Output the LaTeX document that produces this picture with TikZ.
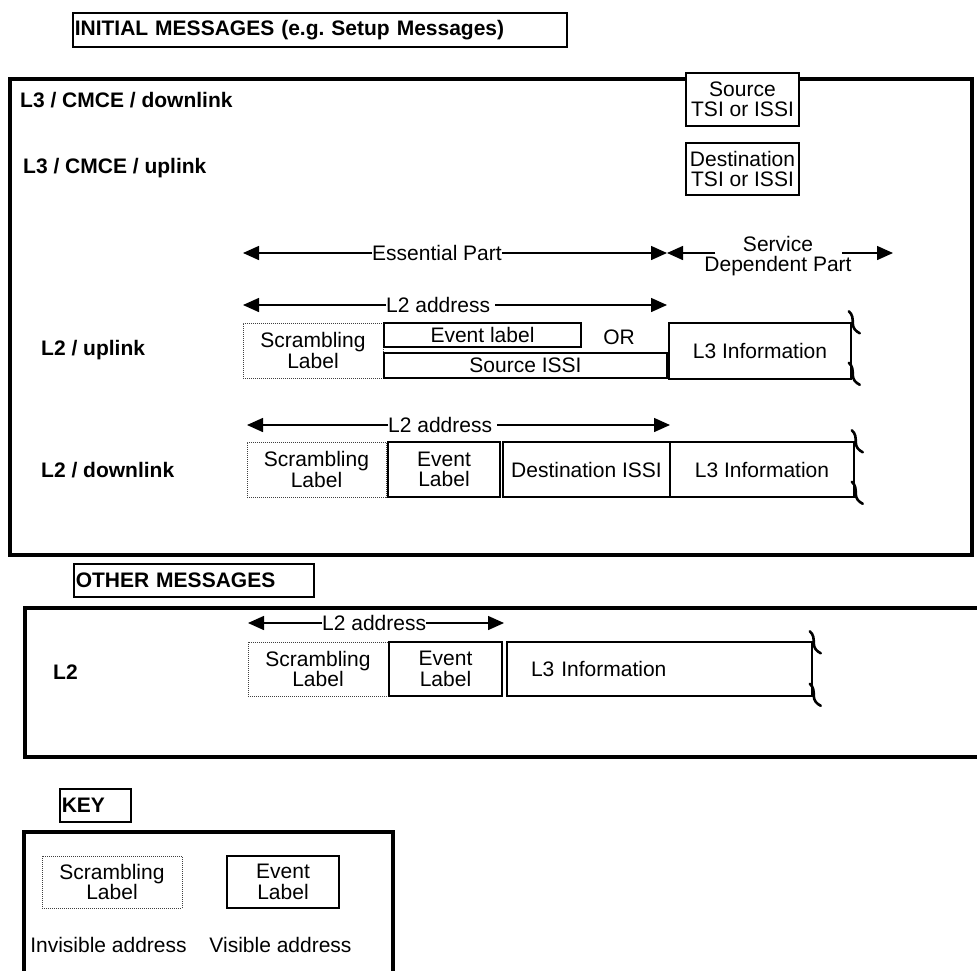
\documentclass[tikz,border=0pt]{standalone}
\usepackage{fontspec}
\setmainfont{Liberation Sans}
\usetikzlibrary{arrows.meta}

\newcommand\figfont{\fontsize{21}{20.5}\selectfont}

\tikzset{
	frame/.style={line width=4.5pt},
	heading/.style={draw, line width=1.5pt, anchor=west, inner xsep=2pt, inner ysep=0pt, align=left, font=\figfont\bfseries},
	layer/.style={anchor=west, inner sep=0pt, font=\figfont\bfseries},
	field/.style={draw, line width=1.5pt, inner sep=0pt, align=center},
	evfield/.style={field, line width=2pt},
	scrfield/.style={draw=black!75, line width=0.9pt, dash pattern=on 1pt off 1pt, inner sep=0pt, align=center},
	spantext/.style={inner sep=0pt, align=center},
	arr/.style={-{Triangle[length=16pt,width=14pt]}, line width=1.5pt},
	squig/.pic={\draw[line width=2.6pt, line cap=round] (-3,0) .. controls (1,3) and (1,8) .. (1,12) .. controls (1,17) and (4,20) .. (8,22);}
}

\begin{document}
\begin{tikzpicture}[x=1pt, y=-1pt, font=\figfont]
	\useasboundingbox (0,0) rectangle (977,970);
	
	%initial messages
	\node[heading, text width=490pt, minimum height=34pt] (initT) at (72,30) {INITIAL MESSAGES (e.g.\ Setup Messages)};
	\draw[frame] (10,79) rectangle (972,555);
	
	\node[layer] (l3dl) at (20,100) {L3 / CMCE / downlink};
	\node[layer] (l3ul) at (23,168) {L3 / CMCE / uplink};
	\node[field, fill=white, minimum width=113pt, minimum height=53pt] (srcT) at (742.5,99.5) {Source\\TSI or ISSI};
	\node[field, minimum width=113pt, minimum height=52pt] (dstT) at (742.5,169) {Destination\\TSI or ISSI};
	
	%essential / service dependent part
	\node[spantext] (ess) at (437,253) {Essential Part};
	\coordinate (essL) at (243,253);
	\coordinate (essR) at (667,253);
	\draw[arr] (ess.west) -- (essL);
	\draw[arr] (ess.east) -- (essR);
	
	\node[spantext] (svc) at (778,256) {Service\\Dependent Part};
	\coordinate (svcL) at (667,253);
	\coordinate (svcR) at (893,253);
	\draw[arr] ([xshift=11pt,yshift=3pt]svc.west) -- (svcL);
	\draw[arr] ([xshift=-10pt,yshift=3pt]svc.east) -- (svcR);
	
	%L2 uplink
	\node[layer] (l2ul) at (41,350) {L2 / uplink};
	\node[spantext, anchor=west] (adrU) at (386,305) {L2 address};
	\coordinate (adrUl) at (243,305);
	\coordinate (adrUr) at (667,305);
	\draw[arr] (adrU.west) -- (adrUl);
	\draw[arr] ([xshift=5pt]adrU.east) -- (adrUr);
	
	\node[scrfield, minimum width=140pt, minimum height=55pt] (scrU) at (313,350.5) {Scrambling\\Label};
	\node[evfield, minimum width=197pt, minimum height=24pt] (evU) at (482.5,335) {Event label};
	\node[field, minimum width=283pt, minimum height=25pt] (srcU) at (525.5,365.5) {Source ISSI};
	\node[spantext] (orU) at (619,337) {OR};
	\node[field, minimum width=182pt, minimum height=56pt] (l3U) at (760,351) {L3 Information};
	\pic at ([yshift=11pt]l3U.north east) {squig};
	\pic at ([yshift=17pt]l3U.south east) {squig};
	
	%L2 downlink
	\node[layer] (l2dl) at (41,470) {L2 / downlink};
	\node[spantext, anchor=west] (adrD) at (388,425) {L2 address};
	\coordinate (adrDl) at (247,425);
	\coordinate (adrDr) at (670,425);
	\draw[arr] (adrD.west) -- (adrDl);
	\draw[arr] ([xshift=5pt]adrD.east) -- (adrDr);
	
	\node[scrfield, minimum width=139pt, minimum height=55pt] (scrD) at (316.5,469.5) {Scrambling\\Label};
	\node[evfield, minimum width=112pt, minimum height=55pt] (evD) at (444,469.5) {Event\\Label};
	\node[field, minimum width=167pt, minimum height=55pt] (dstD) at (586.5,469.5) {Destination ISSI};
	\node[field, minimum width=184pt, minimum height=55pt] (l3D) at (762,469.5) {L3 Information};
	\pic at ([yshift=11pt]l3D.north east) {squig};
	\pic at ([yshift=16pt]l3D.south east) {squig};
	
	%other messages
	\node[heading, text width=236pt, minimum height=33pt] (othT) at (73,580.5) {OTHER MESSAGES};
	\draw[frame] (1000,608) -- (25,608) -- (25,757) -- (1000,757);
	
	\node[layer] (l2o) at (53,672) {L2};
	\node[spantext, anchor=west] (adrO) at (322,623) {L2 address};
	\coordinate (adrOl) at (248,623);
	\coordinate (adrOr) at (504,623);
	\draw[arr] (adrO.west) -- (adrOl);
	\draw[arr] (adrO.east) -- (adrOr);
	
	\node[scrfield, minimum width=140pt, minimum height=54pt] (scrO) at (318,669) {Scrambling\\Label};
	\node[evfield, minimum width=113pt, minimum height=54pt] (evO) at (445.5,669) {Event\\Label};
	\node[field, text width=257pt, inner xsep=24pt, align=left, minimum height=54pt] (l3O) at (659.5,669) {L3 Information};
	\pic at ([yshift=10pt]l3O.north east) {squig};
	\pic at ([yshift=13pt]l3O.south east) {squig};
	
	%key
	\node[heading, text width=67pt, minimum height=33pt] (keyT) at (59,805.5) {KEY};
	\draw[frame] (24,990) -- (24,832) -- (393,832) -- (393,990);
	
	\node[scrfield, minimum width=140pt, minimum height=52pt] (keyScr) at (112,882) {Scrambling\\Label};
	\node[evfield, minimum width=112pt, minimum height=52pt] (keyEv) at (283,882) {Event\\Label};
	\node[spantext] (keyInv) at (108.5,945) {Invisible address};
	\node[spantext] (keyVis) at (280.5,945) {Visible address};
\end{tikzpicture}
\end{document}
